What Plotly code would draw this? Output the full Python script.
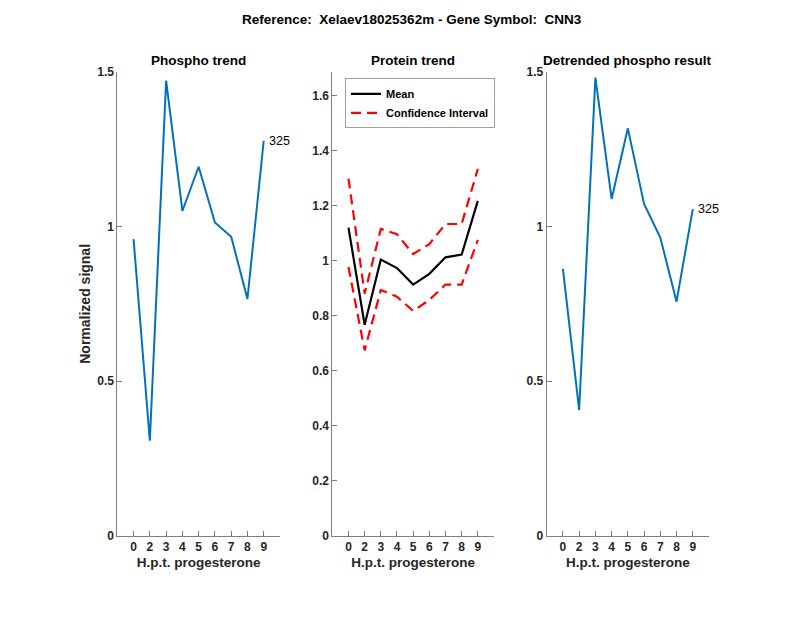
import plotly.graph_objects as go

time_labels = ["0", "2", "3", "4", "5", "6", "7", "8", "9"]
positions = [1, 2, 3, 4, 5, 6, 7, 8, 9]

phospho = [0.959, 0.308, 1.471, 1.050, 1.193, 1.013, 0.967, 0.766, 1.277]
protein_mean = [1.120, 0.767, 1.004, 0.973, 0.913, 0.952, 1.012, 1.022, 1.217]
protein_upper = [1.298, 0.880, 1.115, 1.096, 1.024, 1.060, 1.133, 1.133, 1.333]
protein_lower = [0.977, 0.674, 0.893, 0.869, 0.817, 0.857, 0.913, 0.913, 1.075]
detrended = [0.863, 0.407, 1.481, 1.089, 1.317, 1.073, 0.964, 0.757, 1.056]
peptide_id = "325"

W, H = 800, 618
FONT = "Liberation Sans"
AX = "#7f7f7f"
TXT = "#262626"
BLUE = "#0072BD"

def fx(p):
    return p / W

def fy(p):
    return 1 - p / H

fig = go.Figure()

fig.add_trace(go.Scatter(x=positions, y=phospho, mode="lines", line=dict(color=BLUE, width=2),
                         xaxis="x", yaxis="y", showlegend=False))
fig.add_trace(go.Scatter(x=positions, y=protein_mean, mode="lines", name="Mean",
                         line=dict(color="black", width=2.2), xaxis="x2", yaxis="y2"))
fig.add_trace(go.Scatter(x=positions, y=protein_upper, mode="lines", name="Confidence Interval",
                         line=dict(color="#ff0000", width=2.2, dash="10px,6px"), xaxis="x2", yaxis="y2",
                         legendgroup="ci"))
fig.add_trace(go.Scatter(x=positions, y=protein_lower, mode="lines", name="Confidence Interval",
                         line=dict(color="#ff0000", width=2.2, dash="10px,6px"), xaxis="x2", yaxis="y2",
                         legendgroup="ci", showlegend=False))
fig.add_trace(go.Scatter(x=positions, y=detrended, mode="lines", line=dict(color=BLUE, width=2),
                         xaxis="x3", yaxis="y3", showlegend=False))

ydom = [fy(536), fy(71.7)]
xdoms = [[fx(117.3), fx(280)], [fx(332.3), fx(494)], [fx(546.7), fx(709)]]
yranges = [[0, 1.5], [0, 1.686], [0, 1.5]]
ytickvals = [[0, 0.5, 1, 1.5], [0, 0.2, 0.4, 0.6, 0.8, 1, 1.2, 1.4, 1.6], [0, 0.5, 1, 1.5]]
yticktext = [["0", "0.5", "1", "1.5"], ["0", "0.2", "0.4", "0.6", "0.8", "1", "1.2", "1.4", "1.6"],
             ["0", "0.5", "1", "1.5"]]

tickfont = dict(family=FONT, size=12, color=TXT, weight="bold")
layout = {}
for i in range(3):
    sx = "" if i == 0 else str(i + 1)
    layout["xaxis" + sx] = dict(
        domain=xdoms[i], range=[0, 10], tickvals=positions, ticktext=time_labels,
        anchor="y" + sx, showline=True, linecolor=AX, linewidth=1, ticks="inside", ticklen=5,
        tickcolor=AX, showgrid=False, zeroline=False, tickfont=tickfont, automargin=False,
        title=dict(text="H.p.t. progesterone", font=dict(family=FONT, size=13.5, color=TXT, weight="bold"),
                   standoff=4),
    )
    layout["yaxis" + sx] = dict(
        domain=ydom, range=yranges[i], tickvals=ytickvals[i], ticktext=yticktext[i],
        anchor="x" + sx, showline=True, linecolor=AX, linewidth=1, ticks="inside", ticklen=5,
        tickcolor=AX, showgrid=False, zeroline=False, tickfont=tickfont, automargin=False,
    )
layout["yaxis"]["title"] = dict(text="Normalized signal",
                                font=dict(family=FONT, size=14, color=TXT, weight="bold"), standoff=3)

fig.update_layout(**layout)

annotations = [
    dict(text="Reference:  Xelaev18025362m - Gene Symbol:  CNN3", x=fx(412), y=fy(19),
         xref="paper", yref="paper", showarrow=False, xanchor="center", yanchor="middle",
         font=dict(family=FONT, size=13.5, color="black", weight="bold")),
    dict(text="Phospho trend", x=fx(198.6), y=fy(61), xref="paper", yref="paper", showarrow=False,
         xanchor="center", yanchor="middle", font=dict(family=FONT, size=13.5, color="black", weight="bold")),
    dict(text="Protein trend", x=fx(413), y=fy(61), xref="paper", yref="paper", showarrow=False,
         xanchor="center", yanchor="middle", font=dict(family=FONT, size=13.5, color="black", weight="bold")),
    dict(text="Detrended phospho result", x=fx(627.8), y=fy(61), xref="paper", yref="paper", showarrow=False,
         xanchor="center", yanchor="middle", font=dict(family=FONT, size=13.5, color="black", weight="bold")),
    dict(text=peptide_id, x=positions[-1], y=phospho[-1], xref="x", yref="y", showarrow=False,
         xanchor="left", yanchor="middle", xshift=3, font=dict(family=FONT, size=12.5, color="black")),
    dict(text=peptide_id, x=positions[-1], y=detrended[-1], xref="x3", yref="y3", showarrow=False,
         xanchor="left", yanchor="middle", xshift=3, font=dict(family=FONT, size=12.5, color="black")),
]

fig.update_layout(
    width=W, height=H, margin=dict(l=0, r=0, t=0, b=0),
    paper_bgcolor="white", plot_bgcolor="white",
    annotations=annotations,
    legend=dict(x=fx(345), y=fy(78.3), xanchor="left", yanchor="top", bgcolor="white",
                bordercolor="#a0a0a0", borderwidth=1, font=dict(family=FONT, size=11, color="black", weight="bold"),
                tracegroupgap=0, itemwidth=30),
)

fig.write_html("out.html", config={"displayModeBar": False},
               post_script="document.body.style.margin='0px';")
